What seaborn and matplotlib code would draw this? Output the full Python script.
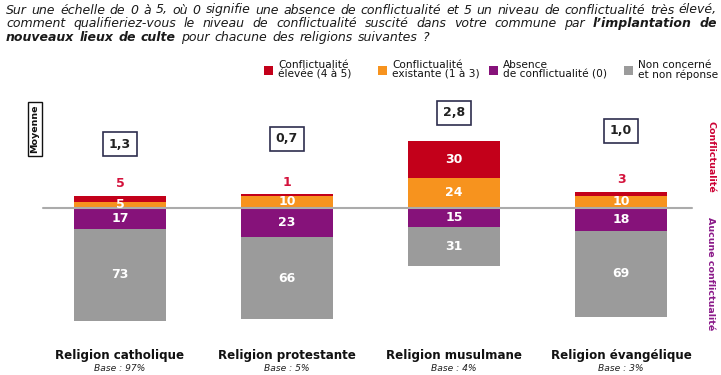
import seaborn as sns
import pandas as pd
import matplotlib.pyplot as plt
from matplotlib.patches import Rectangle

sns.set_theme(style="white")
plt.rcParams['font.family'] = ['DejaVu Sans']

# data
religions = ['Religion catholique', 'Religion protestante',
             'Religion musulmane', 'Religion évangélique']
bases = ['Base : 97%', 'Base : 5%', 'Base : 4%', 'Base : 3%']
elevee = [5, 1, 30, 3]
existante = [5, 10, 24, 10]
absence = [17, 23, 15, 18]
non_concerne = [73, 66, 31, 69]
moyenne = [1.3, 0.7, 2.8, 1.0]

legend_labels = ['Conflictualité\nélevée (4 à 5)', 'Conflictualité\nexistante (1 à 3)',
                 'Absence\nde conflictualité (0)', 'Non concerné\net non réponse']

RED, ORANGE, PURPLE, GREY = '#C3001A', '#F7931E', '#86127A', '#9B9B9B'

df = pd.DataFrame({'religion': religions, 'elevee': elevee, 'existante': existante,
                   'absence': absence, 'non': non_concerne, 'moyenne': moyenne})
df['pos_total'] = df['elevee'] + df['existante']
df['neg_total'] = -(df['absence'] + df['non'])
df['neg_abs'] = -df['absence']

W, H = 721, 375
fig = plt.figure(figsize=(W / 100, H / 100), dpi=100)
ax = fig.add_axes([0, 0, 1, 1])

# stacked bars: draw cumulative totals first, then the inner layers on top
layers = [('pos_total', RED), ('existante', ORANGE), ('neg_total', GREY), ('neg_abs', PURPLE)]
for col, c in layers:
    sns.barplot(data=df, x='religion', y=col, color=c, width=0.55,
                saturation=1, linewidth=0, ax=ax)

# pixel layout: bar centres 120 px apart 167, baseline at 208 px, 1.25 px per point
x0_px, dx_px, base_px, k = 120, 167, 208, 1.25
ax.set_xlim(-x0_px / dx_px, (W - x0_px) / dx_px)
ax.set_ylim(-(H - base_px) / k, base_px / k)
ax.axis('off')

def px(x, y):
    return x / W, 1 - y / H

ax.plot([(43 - x0_px) / dx_px, (692 - x0_px) / dx_px], [0, 0], color='#ABABAB', lw=1.5, zorder=1)

# segment labels
lab = dict(ha='center', va='center', fontsize=9, fontweight='bold')
for i, r in df.iterrows():
    # red segment
    if r['elevee'] >= 15:
        ax.text(i, r['existante'] + r['elevee'] / 2, f"{r['elevee']}", color='white', **lab)
    else:
        ax.text(i, r['pos_total'] + 9.5, f"{r['elevee']}", color='#D4123C', **lab)
    ax.text(i, r['existante'] / 2, f"{r['existante']}", color='white', **lab)
    ax.text(i, -r['absence'] / 2, f"{r['absence']}", color='white', **lab)
    ax.text(i, -r['absence'] - r['non'] / 2, f"{r['non']}", color='white', **lab)
    ax.text(i, -118, r['religion'], ha='center', va='center', fontsize=8.6,
            fontweight='bold', color='#111111')
    ax.text(i, -128.5, bases[i], ha='center', va='center', fontsize=6.6,
            style='italic', color='#222222')

# mean boxes
mean_y_px = [144, 139, 113, 131]
for i, m in enumerate(moyenne):
    ax.text(i, (base_px - mean_y_px[i]) / k, f"{m:.1f}".replace('.', ','),
            ha='center', va='center', fontsize=9, fontweight='bold', color='#222222',
            bbox=dict(boxstyle='square,pad=0.45', fc='white', ec='#2E2E4E', lw=1.2))

fig.text(*px(35, 129), 'Moyenne', rotation=90, ha='center', va='center', fontsize=6.8,
         fontweight='bold', color='#111111',
         bbox=dict(boxstyle='square,pad=0.3', fc='white', ec='#111111', lw=1.0))

# right side labels
fig.text(*px(711, 157), 'Conflictualité', rotation=270, ha='center', va='center',
         fontsize=6.8, fontweight='bold', color='#CC0033')
fig.text(*px(711, 274), 'Aucune conflictualité', rotation=270, ha='center', va='center',
         fontsize=6.8, fontweight='bold', color='#8B1A89')

# legend
leg_x = [264, 378, 489, 624]
for x, c, t in zip(leg_x, [RED, ORANGE, PURPLE, GREY], legend_labels):
    fig.patches.append(Rectangle(px(x, 75), 9 / W, 9 / H, transform=fig.transFigure,
                                 fc=c, ec='none'))
    fig.text(*px(x + 14, 70), t, ha='left', va='center', fontsize=7.6,
             color='#111111', linespacing=0.95)

# question, justified like the original
renderer = fig.canvas.get_renderer()
title_fs = 9.0

def text_width(s):
    t = fig.text(0, 0, s, fontsize=title_fs, style='italic')
    w = t.get_window_extent(renderer).width
    t.remove()
    return w

space_w = text_width('a a') - 2 * text_width('a')

lines = [
    [('Sur une échelle de 0 à 5, où 0 signifie une absence de conflictualité et 5 un niveau de conflictualité très élevé,', 'normal')],
    [('comment qualifieriez-vous le niveau de conflictualité suscité dans votre commune par', 'normal'),
     ('l’implantation de', 'bold')],
    [('nouveaux lieux de culte', 'bold'), ('pour chacune des religions suivantes ?', 'normal')],
]
line_y = [13.5, 27, 41]
left, right = 6, 717
for li, (segs, y) in enumerate(zip(lines, line_y)):
    words = [(w, wt) for s, wt in segs for w in s.split(' ')]
    artists = [fig.text(0, 0, w, fontsize=title_fs, style='italic', fontweight=wt,
                        color='#1A1A1A', va='baseline') for w, wt in words]
    widths = [a.get_window_extent(renderer).width for a in artists]
    if li < len(lines) - 1:
        gap = (right - left - sum(widths)) / (len(words) - 1)
    else:
        gap = space_w + 1
    x = left
    for a, w in zip(artists, widths):
        a.set_position(px(x, y))
        x += w + gap

fig.savefig('out.png', dpi=100)
